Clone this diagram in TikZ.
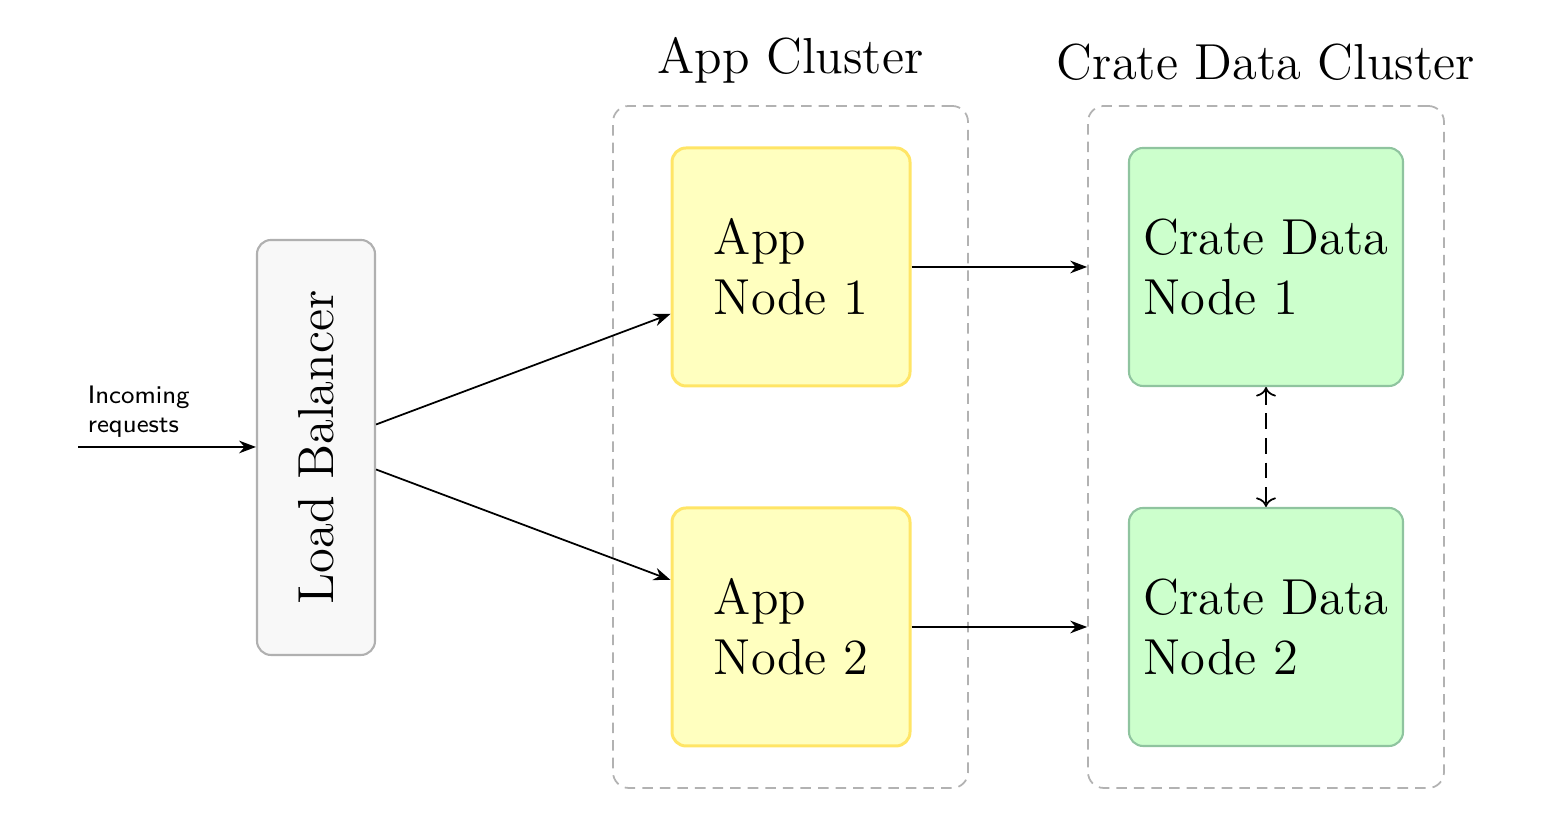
\documentclass[tikz,border=0pt]{standalone}
\usepackage{amsmath,amssymb}
\usepackage{tikz}
\usetikzlibrary{arrows.meta,calc,positioning}
\usepackage{xcolor}
\definecolor{appfill}{HTML}{FFFFBF}
\definecolor{appline}{HTML}{FFE566}
\definecolor{cratefill}{HTML}{CCFFCC}
\definecolor{crateline}{HTML}{8FC49F}
\definecolor{lbfill}{HTML}{F8F8F8}
\definecolor{lbline}{HTML}{B0B0B0}

\begin{document}
\begin{tikzpicture}[
    appbox/.style={draw=appline, fill=appfill, line width=0.85pt, rounded corners=4pt,
        minimum width=2.38cm, minimum height=2.38cm, align=left,
        font=\fontsize{14.4}{17}\selectfont},
    cratebox/.style={draw=crateline, fill=cratefill, line width=0.6pt, rounded corners=4pt,
        minimum width=2.74cm, minimum height=2.38cm, align=left,
        font=\fontsize{14.4}{17}\selectfont},
    lbbox/.style={draw=lbline, fill=lbfill, line width=0.6pt, rounded corners=4pt,
        minimum width=1.18cm, minimum height=4.15cm,
        font=\fontsize{14.4}{17}\selectfont},
    cluster/.style={draw=gray!60, dash pattern=on 3pt off 2pt, line width=0.5pt,
        rounded corners=4.5pt, minimum width=3.55cm, minimum height=6.82cm},
    title/.style={font=\fontsize{14.4}{17}\selectfont},
    link/.style={-{Stealth[length=4.8pt,width=3.6pt]}, line width=0.5pt}
  ]
    \useasboundingbox (0,0) rectangle (15.56,8.24);
    % clusters
    \node[cluster] (AC) at (7.905,3.77) {};
    \node[cluster, minimum width=3.56cm] (CC) at (12.66,3.77) {};
    \node[title, above=2.8pt of AC] {App Cluster};
    \node[title, above=3.5pt of CC] {Crate Data Cluster};
    % nodes
    \node[lbbox] (LB) at (3.16,3.765) {\rotatebox{90}{Load Balancer}};
    \node[appbox] (A1) at (7.91,5.57) {App\\Node 1};
    \node[appbox] (A2) at (7.91,1.97) {App\\Node 2};
    \node[cratebox] (C1) at (12.66,5.57) {Crate Data\\Node 1};
    \node[cratebox] (C2) at (12.66,1.97) {Crate Data\\Node 2};
    % incoming
    \coordinate (IN) at (0.78,3.77);
    \draw[link] (IN) -- (LB.west |- IN);
    \node[above right, inner sep=2.6pt, align=left, font=\sffamily\fontsize{7.2}{8.3}\selectfont] at (IN) {Incoming\\requests};
    % links
    \draw[link] ([yshift=2.3mm]LB.east) -- ([yshift=-4.7mm]A1.west);
    \draw[link] ([yshift=-2.2mm]LB.east) -- ([yshift=4.7mm]A2.west);
    \draw[link] (A1.east) -- (A1.east -| CC.west);
    \draw[link] (A2.east) -- (A2.east -| CC.west);
    \draw[<->, dash pattern=on 4.5pt off 2.5pt, line width=0.5pt] (C1.south) -- (C2.north);
\end{tikzpicture}
\end{document}
